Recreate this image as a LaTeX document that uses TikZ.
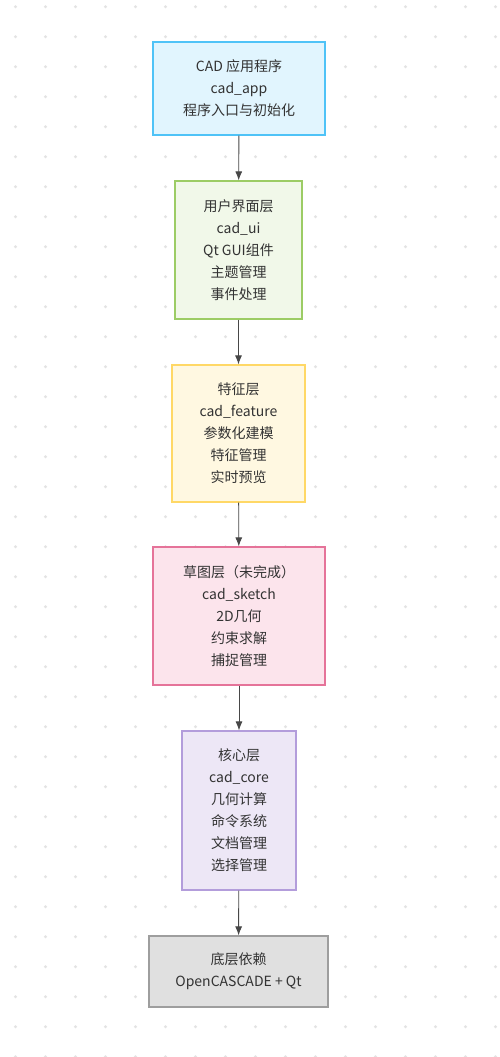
\documentclass[tikz,border=0pt]{standalone}
\usepackage{fontspec}
\setmainfont{Noto Sans CJK SC}
\usepackage{tikz}
\usetikzlibrary{arrows.meta}

\definecolor{txtcol}{HTML}{333333}
\definecolor{dotcol}{HTML}{E3E3E3}
\definecolor{appfill}{HTML}{E1F5FE}
\definecolor{appline}{HTML}{4FC3F7}
\definecolor{uifill}{HTML}{F1F8E9}
\definecolor{uiline}{HTML}{9CCC65}
\definecolor{featfill}{HTML}{FFF8E1}
\definecolor{featline}{HTML}{FFD866}
\definecolor{skfill}{HTML}{FCE4EC}
\definecolor{skline}{HTML}{E57399}
\definecolor{corefill}{HTML}{EDE7F6}
\definecolor{coreline}{HTML}{B39DDB}
\definecolor{depfill}{HTML}{E0E0E0}
\definecolor{depline}{HTML}{9E9E9E}

\begin{document}
\begin{tikzpicture}
  [x=1pt,y=-1pt,
   every node/.style={rectangle,draw,line width=1.2pt,align=center,text=txtcol,
                      font=\fontsize{14}{22}\selectfont,inner sep=0pt},
   link/.style={draw=txtcol!90,line width=0.9pt,-{Latex[length=9pt,width=7pt]}}]
  \useasboundingbox[fill=white] (0,0) rectangle (500,1057);
  % dotted background
  \foreach \i in {0,...,16}
    \foreach \j in {0,...,35}
      \fill[dotcol] (15.5+30*\i,6.7+30*\j) circle (1.6);
  \node[fill=appfill,draw=appline,minimum width=172,minimum height=93] (app) at (239,88.5)
    {CAD 应用程序\\cad\_app\\程序入口与初始化};
  \node[fill=uifill,draw=uiline,minimum width=127,minimum height=138] (ui) at (238.5,250)
    {用户界面层\\cad\_ui\\Qt GUI组件\\主题管理\\事件处理};
  \node[fill=featfill,draw=featline,minimum width=133,minimum height=137] (feature) at (238.5,433.5)
    {特征层\\cad\_feature\\参数化建模\\特征管理\\实时预览};
  \node[fill=skfill,draw=skline,minimum width=172,minimum height=138] (sketch) at (239,616)
    {草图层（未完成）\\cad\_sketch\\2D几何\\约束求解\\捕捉管理};
  \node[fill=corefill,draw=coreline,minimum width=114,minimum height=159] (core) at (239,810.5)
    {核心层\\cad\_core\\几何计算\\命令系统\\文档管理\\选择管理};
  \node[fill=depfill,draw=depline,minimum width=179,minimum height=71] (deps) at (238.5,971.5)
    {底层依赖\\OpenCASCADE + Qt};
  \foreach \from/\to in {app/ui,ui/feature,feature/sketch,sketch/core,core/deps}
    \draw[link] (\from) -- (\to);
\end{tikzpicture}
\end{document}
